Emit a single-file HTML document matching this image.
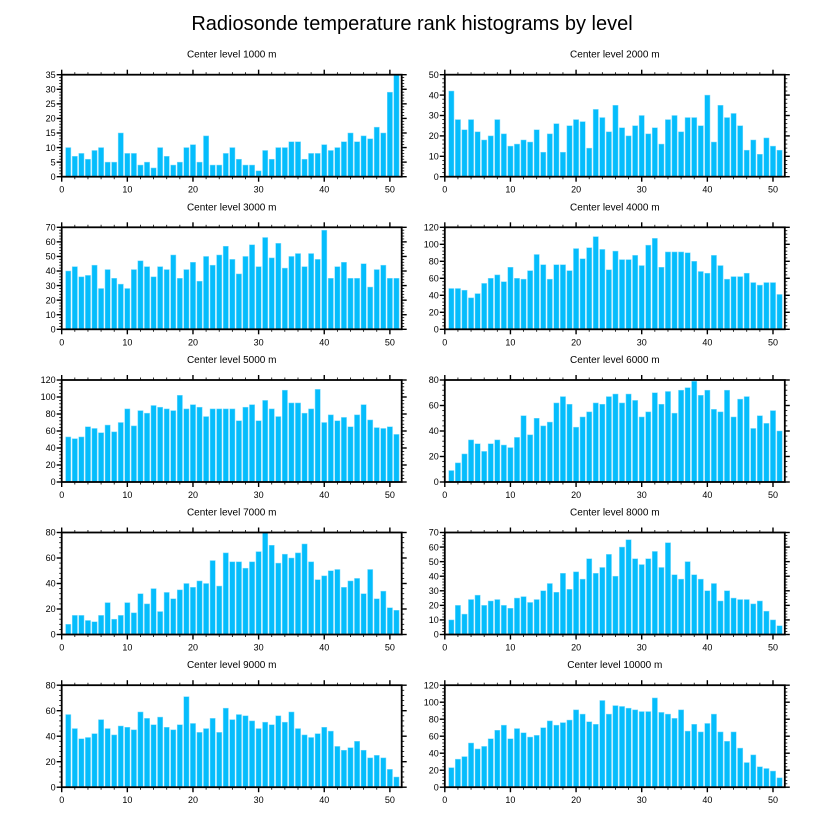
<!DOCTYPE html>
<html><head><meta charset="utf-8"><style>
body{margin:0;background:#fff}
svg{display:block;font-family:"Liberation Sans",Arial,sans-serif}
</style></head><body>
<svg id="chart" width="824" height="824" viewBox="0 0 824 824">
<rect width="824" height="824" fill="#fff"/>
<text x="412" y="30" font-size="20" text-anchor="middle">Radiosonde temperature rank histograms by level</text>
</svg>
<script>
const levels = ["1000","2000","3000","4000","5000","6000","7000","8000","9000","10000"];
const yMaxes = [35,50,70,120,120,80,80,70,80,120];
const yMajorSteps = [5,10,10,20,20,20,20,10,20,20];
const xTicks = [0,10,20,30,40,50];
const v1000 = [10,7,8,6,9,10,5,5,15,8,8,4,5,3,10,7,4,5,10,11,5,14,4,4,8,10,6,4,4,2,9,6,10,10,12,12,6,8,8,11,9,10,12,15,12,14,13,17,15,29,35];
const v2000 = [42,28,23,28,22,18,20,28,21,15,16,18,17,23,12,21,26,12,25,28,27,14,33,29,22,35,24,20,25,30,21,24,16,28,30,22,29,29,25,40,17,35,29,31,25,13,18,11,19,15,13];
const v3000 = [40,43,36,37,44,28,41,35,31,28,41,47,43,36,43,41,51,35,41,46,33,50,44,51,57,48,38,50,58,43,63,49,59,42,50,52,43,52,48,68,35,43,46,35,35,45,29,41,44,35,35];
const v4000 = [48,48,46,37,42,54,60,64,56,73,60,59,69,88,76,59,76,76,69,95,83,96,109,94,70,92,82,82,87,75,99,107,73,91,91,91,90,80,68,66,87,75,59,62,62,66,55,52,55,55,41];
const v5000 = [53,51,53,65,63,58,67,59,70,86,66,84,81,90,88,86,84,102,86,91,88,77,86,86,86,86,72,88,91,72,96,86,77,108,93,93,81,86,109,70,79,72,76,65,79,91,73,64,63,65,56];
const v6000 = [9,15,22,33,30,24,30,33,29,27,35,52,37,50,44,47,62,67,61,43,51,55,62,61,67,69,62,69,64,51,55,70,61,71,54,72,74,79,68,72,57,55,72,51,65,67,42,52,46,56,40];
const v7000 = [8,15,15,11,10,15,25,12,15,25,17,32,24,36,18,33,28,35,40,37,42,40,58,38,64,57,57,52,57,65,80,70,56,63,60,64,71,57,43,46,50,51,37,42,44,32,51,28,34,21,19];
const v8000 = [10,20,14,24,27,20,23,24,20,18,25,26,22,24,30,35,29,42,31,43,38,52,42,46,55,40,60,65,52,48,52,57,46,63,41,38,50,41,38,30,35,23,30,25,24,24,21,23,16,10,6];
const v9000 = [57,46,38,39,42,53,46,41,48,47,45,59,54,49,55,47,45,49,71,50,43,46,54,43,62,53,57,56,52,46,51,49,56,51,59,46,41,39,42,47,44,32,29,31,36,29,23,25,23,14,8];
const v10000 = [23,33,36,52,45,48,57,67,73,57,69,64,59,61,70,78,73,76,79,91,86,77,74,102,86,96,95,93,91,89,89,105,88,86,81,91,66,74,65,75,86,65,54,65,46,29,38,24,22,19,11];
const allValues = [v1000,v2000,v3000,v4000,v5000,v6000,v7000,v8000,v9000,v10000];

const NS = "http://www.w3.org/2000/svg";
const svg = document.getElementById("chart");
function mk(tag, attrs, parent){
  const e = document.createElementNS(NS, tag);
  for (const k in attrs) e.setAttribute(k, attrs[k]);
  (parent||svg).appendChild(e);
  return e;
}
const W = 340, H = 102, XMAX = 51.8;
const lefts = [61.7, 444.8];
const tops = [74.7, 227.3, 380, 532.5, 685.2];

allValues.forEach((vals, p) => {
  const L = lefts[p % 2], T = tops[Math.floor(p / 2)];
  const ymax = yMaxes[p], step = yMajorSteps[p];
  const xs = v => L + v / XMAX * W;
  const ys = v => T + H - v / ymax * H;
  const g = mk("g", {});
  
  
  const t = mk("text", {x: L + W/2, y: T - 17, "font-size": 10, "text-anchor": "middle"}, g);
  t.textContent = "Center level " + levels[p] + " m";
  
  
  vals.forEach((v, i) => {
    const c = i + 1;
    const b = mk("rect", {x: xs(c - 0.4), y: ys(v), width: xs(c + 0.4) - xs(c - 0.4), height: ys(0) - ys(v), fill: "#05bdfc", stroke: "#7fdcfd", "stroke-width": 0.5}, g);
    
    
  });
  // frame
  const fr = mk("rect", {x: L, y: T, width: W, height: H, fill: "none", stroke: "#000", "stroke-width": 1.8}, g);
  
  
  // x ticks
  for (let v = 0; v <= XMAX; v += 2) {
    const major = v % 10 === 0, len = major ? 5 : 2.5, x = xs(v);
    mk("line", {x1: x, x2: x, y1: T + H, y2: T + H + len, stroke: "#000", "stroke-width": major ? 1.4 : 0.8}, g);
    mk("line", {x1: x, x2: x, y1: T, y2: T - len, stroke: "#000", "stroke-width": major ? 1.4 : 0.8}, g);
  }
  xTicks.forEach(v => {
    const tl = mk("text", {x: xs(v), y: T + H + 16, "font-size": 9, "text-anchor": "middle"}, g);
    tl.textContent = v;
    
    
  });
  // y ticks
  const minor = step / 5;
  for (let k = 0; k * minor <= ymax + 1e-9; k++) {
    const v = k * minor, major = k % 5 === 0, len = major ? 5 : 2.5, y = ys(v);
    mk("line", {x1: L, x2: L - len, y1: y, y2: y, stroke: "#000", "stroke-width": major ? 1.4 : 0.8}, g);
    mk("line", {x1: L + W, x2: L + W + len, y1: y, y2: y, stroke: "#000", "stroke-width": major ? 1.4 : 0.8}, g);
  }
  for (let v = 0; v <= ymax; v += step) {
    const yl = mk("text", {x: L - 6, y: ys(v) + 3.2, "font-size": 9, "text-anchor": "end"}, g);
    yl.textContent = v;
    
    
  }
});
</script>
</body></html>
